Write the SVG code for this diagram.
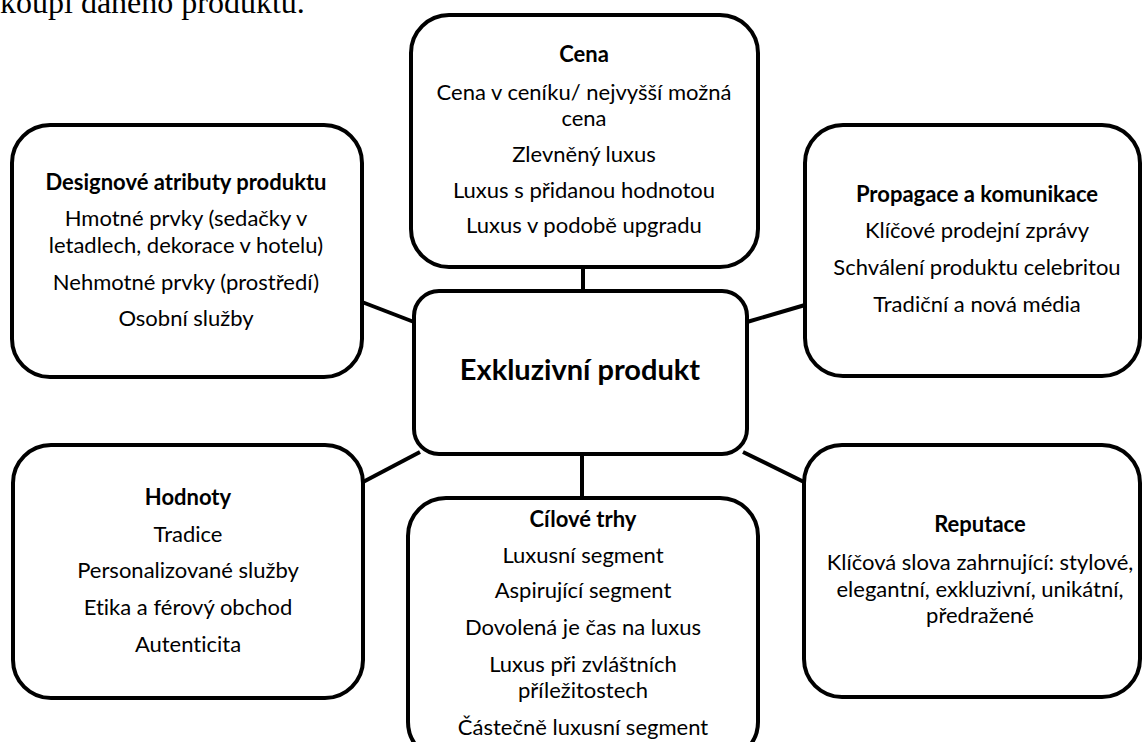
<svg xmlns="http://www.w3.org/2000/svg" width="1142" height="742" viewBox="0 0 1142 742">
<style>
.box{fill:#fff;stroke:#000;stroke-width:4}
.con{stroke:#000;stroke-width:4;fill:none}
text{font-family:Lato,"Liberation Sans",sans-serif;font-size:22px;fill:#000;text-anchor:middle;font-variant-ligatures:none;font-feature-settings:"liga" 0,"clig" 0}
.h{font-weight:bold}
.title{font-weight:bold;font-size:29px}
.top{font-family:"Liberation Serif",serif;font-size:32px;text-anchor:start}
</style>
<rect width="1142" height="742" fill="#fff"/>
<text class="top" x="0" y="13">koupi daného produktu.</text>
<g id="connectors">
<line class="con" x1="583" y1="267" x2="583" y2="291"/>
<line class="con" x1="362" y1="302" x2="414" y2="322"/>
<line class="con" x1="747" y1="322" x2="805" y2="305"/>
<line class="con" x1="363" y1="482" x2="420" y2="452"/>
<line class="con" x1="582" y1="454" x2="582" y2="498"/>
<line class="con" x1="743" y1="452" x2="804" y2="482"/>
</g>
<g id="cena">
<rect class="box" x="411" y="15" width="347" height="252" rx="38"/>
<text class="h" x="584" y="62">Cena</text>
<text x="584" y="100">Cena v ceníku/ nejvyšší možná</text>
<text x="584" y="126">cena</text>
<text x="584" y="162">Zlevněný luxus</text>
<text x="584" y="198">Luxus s přidanou hodnotou</text>
<text x="584" y="233">Luxus v podobě upgradu</text>
</g>
<g id="design">
<rect class="box" x="12" y="125" width="350" height="252" rx="38"/>
<text class="h" x="186" y="190">Designové atributy produktu</text>
<text x="186" y="226">Hmotné prvky (sedačky v</text>
<text x="186" y="253">letadlech, dekorace v hotelu)</text>
<text x="186" y="290">Nehmotné prvky (prostředí)</text>
<text x="186" y="326">Osobní služby</text>
</g>
<g id="propagace">
<rect class="box" x="805" y="125" width="335" height="251" rx="38"/>
<text class="h" x="977" y="202">Propagace a komunikace</text>
<text x="977" y="238">Klíčové prodejní zprávy</text>
<text x="977" y="275">Schválení produktu celebritou</text>
<text x="977" y="312">Tradiční a nová média</text>
</g>
<g id="center">
<rect class="box" x="414" y="291" width="333" height="163" rx="25"/>
<text class="title" x="580" y="380">Exkluzivní produkt</text>
</g>
<g id="hodnoty">
<rect class="box" x="13" y="445" width="350" height="253" rx="38"/>
<text class="h" x="188" y="505">Hodnoty</text>
<text x="188" y="542">Tradice</text>
<text x="188" y="578">Personalizované služby</text>
<text x="188" y="615">Etika a férový obchod</text>
<text x="188" y="652">Autenticita</text>
</g>
<g id="cilove">
<rect class="box" x="408" y="498" width="350" height="262" rx="38"/>
<text class="h" x="583" y="527">Cílové trhy</text>
<text x="583" y="563">Luxusní segment</text>
<text x="583" y="598">Aspirující segment</text>
<text x="583" y="635">Dovolená je čas na luxus</text>
<text x="583" y="672">Luxus při zvláštních</text>
<text x="583" y="698">příležitostech</text>
<text x="583" y="735">Částečně luxusní segment</text>
</g>
<g id="reputace">
<rect class="box" x="804" y="445" width="336" height="252" rx="38"/>
<text class="h" x="980" y="532">Reputace</text>
<text x="980" y="570">Klíčová slova zahrnující: stylové,</text>
<text x="980" y="597">elegantní, exkluzivní, unikátní,</text>
<text x="980" y="623">předražené</text>
</g>
</svg>
